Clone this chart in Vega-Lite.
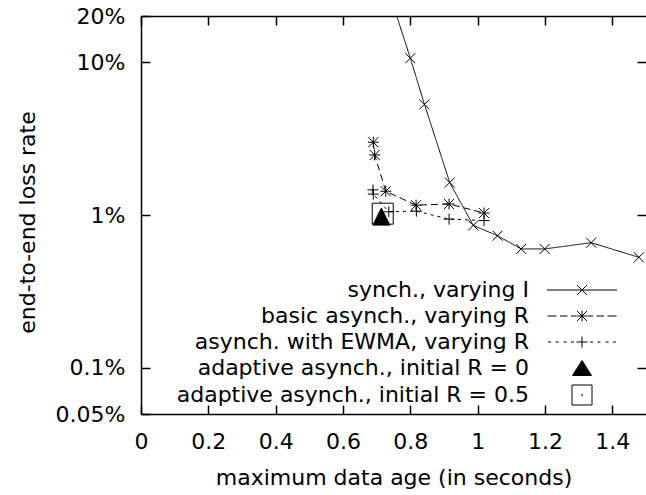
{
  "$schema": "https://vega.github.io/schema/vega-lite/v6.json",
  "width": 505,
  "height": 398,
  "autosize": {"type": "none"},
  "padding": {"left": 141, "top": 16, "right": 0, "bottom": 81},
  "background": "white",
  "data": {
    "values": [
      {"series": "synch., varying I", "age": 0.70, "loss": 51},
      {"series": "synch., varying I", "age": 0.80, "loss": 10.6},
      {"series": "synch., varying I", "age": 0.842, "loss": 5.29},
      {"series": "synch., varying I", "age": 0.917, "loss": 1.63},
      {"series": "synch., varying I", "age": 0.987, "loss": 0.855},
      {"series": "synch., varying I", "age": 1.059, "loss": 0.732},
      {"series": "synch., varying I", "age": 1.129, "loss": 0.60},
      {"series": "synch., varying I", "age": 1.199, "loss": 0.60},
      {"series": "synch., varying I", "age": 1.337, "loss": 0.659},
      {"series": "synch., varying I", "age": 1.479, "loss": 0.529},
      {"series": "basic asynch., varying R", "age": 0.690, "loss": 2.99},
      {"series": "basic asynch., varying R", "age": 0.694, "loss": 2.47},
      {"series": "basic asynch., varying R", "age": 0.727, "loss": 1.43},
      {"series": "basic asynch., varying R", "age": 0.817, "loss": 1.16},
      {"series": "basic asynch., varying R", "age": 0.915, "loss": 1.18},
      {"series": "basic asynch., varying R", "age": 1.019, "loss": 1.03},
      {"series": "asynch. with EWMA, varying R", "age": 0.689, "loss": 1.46},
      {"series": "asynch. with EWMA, varying R", "age": 0.690, "loss": 1.37},
      {"series": "asynch. with EWMA, varying R", "age": 0.736, "loss": 1.05},
      {"series": "asynch. with EWMA, varying R", "age": 0.818, "loss": 1.06},
      {"series": "asynch. with EWMA, varying R", "age": 0.915, "loss": 0.94},
      {"series": "asynch. with EWMA, varying R", "age": 1.019, "loss": 0.92},
      {"series": "adaptive asynch., initial R = 0", "age": 0.714, "loss": 0.976},
      {"series": "adaptive asynch., initial R = 0.5", "age": 0.718, "loss": 1.02}
    ]
  },
  "config": {
    "view": {"stroke": null},
    "axis": {
      "grid": false,
      "domainColor": "black",
      "domainWidth": 1.5,
      "tickColor": "black",
      "tickWidth": 1.5,
      "tickSize": -9,
      "labelFont": "DejaVu Sans",
      "labelFontSize": 22,
      "labelColor": "black",
      "titleFont": "DejaVu Sans",
      "titleFontSize": 22,
      "titleFontWeight": "normal",
      "titleColor": "black"
    }
  },
  "layer": [
    {
      "transform": [
        {"filter": {"field": "series", "oneOf": ["synch., varying I", "basic asynch., varying R", "asynch. with EWMA, varying R"]}}
      ],
      "mark": {"type": "line", "stroke": "black", "strokeWidth": 1, "clip": true},
      "encoding": {
        "x": {
          "field": "age", "type": "quantitative",
          "scale": {"domain": [0, 1.5], "nice": false, "zero": false},
          "axis": {
            "orient": "bottom",
            "values": [0, 0.2, 0.4, 0.6, 0.8, 1, 1.2, 1.4],
            "format": "~g",
            "labelPadding": 26,
            "labelFlush": false,
            "title": "maximum data age (in seconds)",
            "titleBaseline": "alphabetic",
            "titleY": 70
          }
        },
        "y": {
          "field": "loss", "type": "quantitative",
          "scale": {"type": "log", "domain": [0.05, 20], "nice": false},
          "axis": {
            "orient": "left",
            "values": [0.05, 0.1, 1, 10, 20],
            "labelExpr": "datum.value + '%'",
            "labelPadding": 25,
            "labelFlush": false,
            "title": "end-to-end loss rate",
            "titleAngle": 270,
            "titleAlign": "center",
            "titleBaseline": "alphabetic",
            "titleX": -107,
            "titleY": 206
          }
        },
        "strokeDash": {
          "field": "series", "type": "nominal",
          "scale": {
            "domain": ["synch., varying I", "basic asynch., varying R", "asynch. with EWMA, varying R"],
            "range": [[1, 0], [7, 4], [3, 4]]
          },
          "legend": null
        }
      }
    },
    {
      "mark": {"type": "point", "filled": true, "fill": "black", "stroke": "black", "strokeWidth": 1, "opacity": 1, "clip": true},
      "encoding": {
        "x": {
          "field": "age", "type": "quantitative",
          "axis": {"orient": "top", "values": [0, 0.2, 0.4, 0.6, 0.8, 1, 1.2, 1.4], "labels": false, "title": null}
        },
        "y": {
          "field": "loss", "type": "quantitative",
          "axis": {"orient": "right", "values": [0.1, 1, 10], "labels": false, "domain": false, "title": null}
        },
        "size": {"value": 100},
        "shape": {
          "field": "series", "type": "nominal",
          "scale": {
            "domain": ["synch., varying I", "basic asynch., varying R", "asynch. with EWMA, varying R", "adaptive asynch., initial R = 0", "adaptive asynch., initial R = 0.5"],
            "range": [
              "M-1,-1L1,1M-1,1L1,-1",
              "M-1.1,0H1.1M0,-1.1V1.1M-1,-1L1,1M-1,1L1,-1",
              "M-1.1,0H1.1M0,-1.1V1.1",
              "M0,-1.7L1.7,1.7L-1.7,1.7Z",
              "M-2.1,-2.1H2.1M2.1,-2.1V2.1M2.1,2.1H-2.1M-2.1,2.1V-2.1M-0.12,-0.12H0.12V0.12H-0.12Z"
            ]
          },
          "legend": null
        }
      }
    },
    {
      "transform": [{"filter": "false"}],
      "mark": {"type": "point", "filled": false, "stroke": "black", "strokeWidth": 1, "opacity": 1},
      "encoding": {
        "shape": {
          "field": "series", "type": "nominal",
          "scale": {
            "domain": ["synch., varying I", "basic asynch., varying R", "asynch. with EWMA, varying R", "adaptive asynch., initial R = 0", "adaptive asynch., initial R = 0.5"],
            "range": [
              "M-7,0H7M-1,-1L1,1M-1,1L1,-1",
              "M-6.9,0H-5.1M-4.4,0H-2.9M-2.2,0H-1.2M1.2,0H2.2M2.9,0H4.4M5.1,0H6.9M-1.1,0H1.1M0,-1.1V1.1M-1,-1L1,1M-1,1L1,-1",
              "M-6.8,0H-6.2M-5.3,0H-4.7M-3.7,0H-3.1M-2.2,0H-1.6M1.6,0H2.2M3.1,0H3.7M4.7,0H5.3M6.2,0H6.8M-1.1,0H1.1M0,-1.1V1.1",
              "M0,-1.5L1.9,1.5L-1.9,1.5ZM-0.13,-1.3H0.13M-0.25,-1.1H0.25M-0.38,-0.9H0.38M-0.51,-0.7H0.51M-0.63,-0.5H0.63M-0.76,-0.3H0.76M-0.89,-0.1H0.89M-1.01,0.1H1.01M-1.14,0.3H1.14M-1.27,0.5H1.27M-1.39,0.7H1.39M-1.52,0.9H1.52M-1.65,1.1H1.65M-1.77,1.3H1.77",
              "M-2,-2H2M2,-2V2M2,2H-2M-2,2V-2M-0.12,-0.12H0.12M-0.12,0.12H0.12"
            ]
          },
          "legend": {
            "orient": "none",
            "legendX": 430,
            "legendY": 263,
            "title": null,
            "padding": 0,
            "rowPadding": 4,
            "symbolSize": 100,
            "symbolStrokeColor": "black",
            "symbolStrokeWidth": 1,
            "symbolOpacity": 1,
            "labelAlign": "right",
            "labelOffset": -64,
            "labelLimit": 600,
            "labelFont": "DejaVu Sans",
            "labelFontSize": 22,
            "labelColor": "black"
          }
        }
      }
    }
  ],
  "resolve": {
    "axis": {"x": "independent", "y": "independent"},
    "scale": {"shape": "independent"}
  }
}
